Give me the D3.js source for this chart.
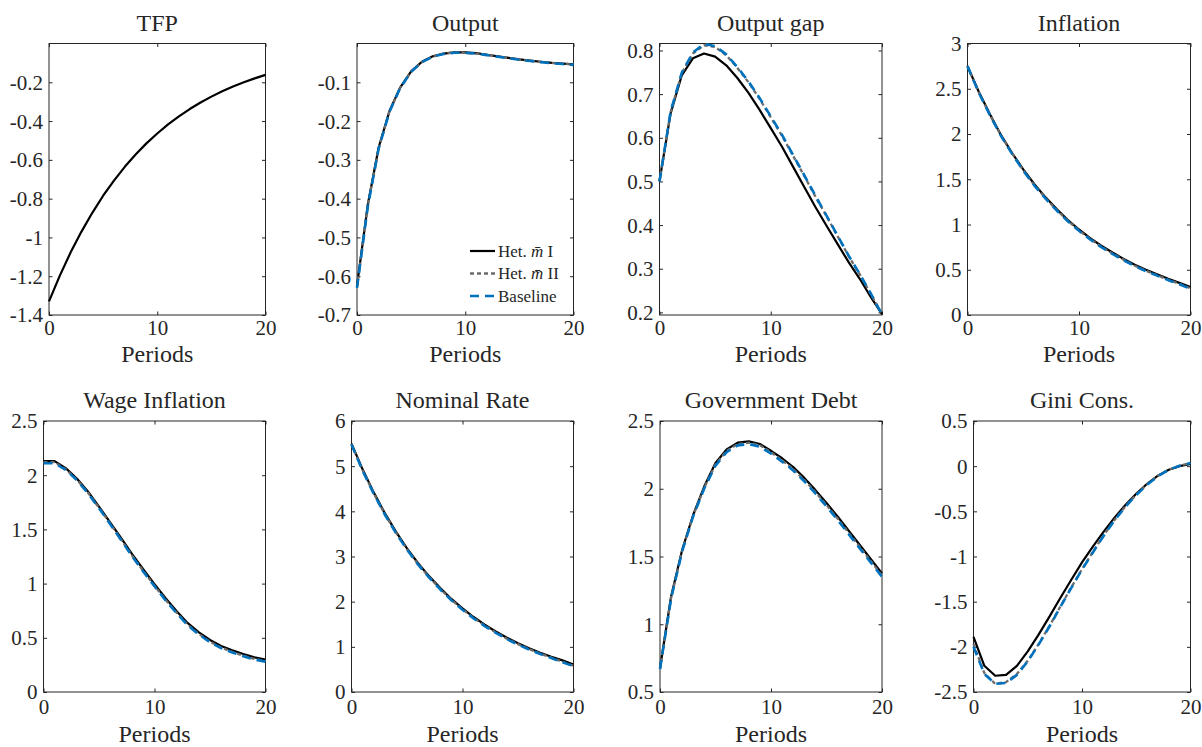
<!DOCTYPE html>
<html lang="en">
<head>
  <meta charset="UTF-8">
  <title>Impulse responses</title>
  <style>
    body { margin: 0; background: #fff; }
    #chart text { font-family: "Liberation Serif", "DejaVu Serif", serif; fill: #262626; }
  </style>
</head>
<body>
  <svg id="chart" width="1202" height="747"></svg>

  <script src="https://d3js.org/d3.v7.min.js"></script>
  <script>
    // periods on the x axis
    const periods = [0,1,2,3,4,5,6,7,8,9,10,11,12,13,14,15,16,17,18,19,20];
    const xTicks = [0, 10, 20];

    const titles = ["TFP", "Output", "Output gap", "Inflation",
                    "Wage Inflation", "Nominal Rate", "Government Debt", "Gini Cons."];
    const seriesNames = ["Het. m\u0304 I", "Het. m\u0304 II", "Baseline"];

    // y limits and tick labels for each panel
    const yLimits = [[-1.4, 0], [-0.7, 0], [0.194, 0.816], [0, 3],
                     [0, 2.5], [0, 6], [0.5, 2.5], [-2.5, 0.5]];
    const tfpTicks = [-1.4, -1.2, -1, -0.8, -0.6, -0.4, -0.2];
    const outputTicks = [-0.7, -0.6, -0.5, -0.4, -0.3, -0.2, -0.1];
    const gapTicks = [0.2, 0.3, 0.4, 0.5, 0.6, 0.7, 0.8];
    const inflTicks = [0, 0.5, 1, 1.5, 2, 2.5, 3];
    const wageTicks = [0, 0.5, 1, 1.5, 2, 2.5];
    const rateTicks = [0, 1, 2, 3, 4, 5, 6];
    const debtTicks = [0.5, 1, 1.5, 2, 2.5];
    const giniTicks = [-2.5, -2, -1.5, -1, -0.5, 0, 0.5];

    // TFP (same for all models)
    const tfp = [-1.33, -1.197, -1.077, -0.970, -0.873, -0.785, -0.707, -0.636, -0.572, -0.515, -0.464,
                 -0.417, -0.376, -0.338, -0.304, -0.274, -0.246, -0.222, -0.200, -0.180, -0.162];

    const outputI = [-0.625, -0.415, -0.268, -0.174, -0.113, -0.072, -0.047, -0.033, -0.026, -0.023, -0.023,
                     -0.025, -0.029, -0.033, -0.037, -0.041, -0.044, -0.047, -0.050, -0.052, -0.054];
    const outputII = [-0.628, -0.418, -0.270, -0.175, -0.114, -0.073, -0.048, -0.034, -0.026, -0.023, -0.024,
                      -0.026, -0.029, -0.033, -0.037, -0.041, -0.045, -0.048, -0.050, -0.052, -0.054];
    const outputBase = [-0.630, -0.420, -0.271, -0.176, -0.114, -0.073, -0.048, -0.034, -0.027, -0.024, -0.024,
                        -0.026, -0.030, -0.034, -0.038, -0.042, -0.045, -0.048, -0.051, -0.053, -0.055];

    const gapI = [0.501, 0.656, 0.743, 0.782, 0.793, 0.786, 0.766, 0.737, 0.703, 0.664, 0.622,
                  0.580, 0.534, 0.488, 0.442, 0.399, 0.357, 0.315, 0.277, 0.235, 0.196];
    const gapII = [0.500, 0.659, 0.748, 0.793, 0.812, 0.808, 0.789, 0.760, 0.727, 0.689, 0.647,
                   0.605, 0.559, 0.513, 0.466, 0.421, 0.375, 0.329, 0.287, 0.242, 0.195];
    const gapBase = [0.500, 0.660, 0.749, 0.795, 0.815, 0.810, 0.791, 0.762, 0.729, 0.691, 0.649,
                     0.607, 0.561, 0.515, 0.468, 0.422, 0.376, 0.330, 0.288, 0.243, 0.195];

    const inflI = [2.75, 2.47, 2.22, 1.99, 1.79, 1.61, 1.445, 1.30, 1.17, 1.05, 0.945,
                   0.85, 0.765, 0.69, 0.62, 0.555, 0.50, 0.45, 0.40, 0.355, 0.31];
    const inflII = [2.75, 2.465, 2.215, 1.985, 1.785, 1.60, 1.435, 1.29, 1.16, 1.04, 0.935,
                    0.84, 0.755, 0.68, 0.61, 0.545, 0.49, 0.44, 0.39, 0.345, 0.295];
    const inflBase = [2.75, 2.46, 2.21, 1.98, 1.78, 1.595, 1.43, 1.285, 1.155, 1.035, 0.93,
                      0.835, 0.75, 0.675, 0.605, 0.54, 0.485, 0.435, 0.385, 0.34, 0.29];

    const wageI = [2.13, 2.13, 2.065, 1.97, 1.85, 1.71, 1.565, 1.42, 1.27, 1.13, 0.995,
                   0.865, 0.745, 0.635, 0.55, 0.48, 0.425, 0.385, 0.35, 0.32, 0.30];
    const wageII = [2.12, 2.12, 2.055, 1.96, 1.84, 1.70, 1.555, 1.405, 1.255, 1.115, 0.98,
                    0.85, 0.73, 0.62, 0.535, 0.465, 0.41, 0.37, 0.335, 0.305, 0.285];
    const wageBase = [2.11, 2.11, 2.05, 1.955, 1.835, 1.695, 1.55, 1.40, 1.25, 1.11, 0.975,
                      0.845, 0.725, 0.615, 0.53, 0.46, 0.405, 0.365, 0.33, 0.30, 0.28];

    const rateI = [5.50, 4.93, 4.42, 3.96, 3.55, 3.18, 2.85, 2.56, 2.30, 2.06, 1.85,
                   1.66, 1.49, 1.34, 1.20, 1.08, 0.97, 0.87, 0.78, 0.70, 0.61];
    const rateII = [5.49, 4.91, 4.40, 3.94, 3.53, 3.16, 2.83, 2.54, 2.28, 2.04, 1.83,
                    1.64, 1.47, 1.32, 1.18, 1.06, 0.95, 0.85, 0.76, 0.67, 0.58];
    const rateBase = [5.48, 4.90, 4.39, 3.93, 3.52, 3.15, 2.82, 2.53, 2.27, 2.03, 1.82,
                      1.63, 1.46, 1.31, 1.17, 1.05, 0.94, 0.84, 0.75, 0.66, 0.57];

    const debtI = [0.675, 1.205, 1.55, 1.81, 2.02, 2.19, 2.29, 2.34, 2.35, 2.33, 2.28,
                   2.225, 2.16, 2.08, 1.99, 1.895, 1.795, 1.69, 1.585, 1.48, 1.375];
    const debtII = [0.67, 1.195, 1.545, 1.805, 2.01, 2.18, 2.28, 2.33, 2.34, 2.32, 2.27,
                    2.21, 2.145, 2.065, 1.975, 1.88, 1.78, 1.675, 1.57, 1.465, 1.36];
    const debtBase = [0.67, 1.19, 1.54, 1.80, 2.005, 2.17, 2.27, 2.32, 2.33, 2.31, 2.26,
                      2.20, 2.135, 2.055, 1.965, 1.87, 1.77, 1.665, 1.56, 1.455, 1.35];

    const giniI = [-1.89, -2.21, -2.32, -2.31, -2.21, -2.05, -1.865, -1.665, -1.46, -1.26, -1.065,
                   -0.89, -0.725, -0.57, -0.43, -0.305, -0.195, -0.105, -0.04, 0.0, 0.025];
    const giniII = [-1.97, -2.29, -2.41, -2.39, -2.30, -2.155, -1.97, -1.77, -1.555, -1.345, -1.14,
                    -0.95, -0.765, -0.595, -0.445, -0.315, -0.2, -0.108, -0.038, 0.005, 0.035];
    const giniBase = [-2.00, -2.30, -2.41, -2.40, -2.31, -2.16, -1.975, -1.775, -1.56, -1.35, -1.145,
                      -0.955, -0.77, -0.60, -0.45, -0.32, -0.205, -0.11, -0.04, 0.005, 0.035];

    const panelTicks = [tfpTicks, outputTicks, gapTicks, inflTicks, wageTicks, rateTicks, debtTicks, giniTicks];
    const panelSeries = [
      [tfp],
      [outputI, outputII, outputBase],
      [gapI, gapII, gapBase],
      [inflI, inflII, inflBase],
      [wageI, wageII, wageBase],
      [rateI, rateII, rateBase],
      [debtI, debtII, debtBase],
      [giniI, giniII, giniBase]
    ];

    // line styles: Het I, Het II, Baseline
    const styles = [
      { color: "#000000", width: 2.2, dash: null },
      { color: "#6b6b6b", width: 2.3, dash: "4,3" },
      { color: "#0072bd", width: 2.6, dash: "9,6" }
    ];

    const FONT = "'Liberation Serif', 'DejaVu Serif', serif";

    // axes boxes (MATLAB-like subplot layout)
    const rights = [265.5, 573.5, 882, 1190.5];
    const lefts = [[49, 357, 659.5, 967.5], [43.5, 351.5, 660, 973.5]];
    const rowTop = [43.5, 421];
    const rowBottom = [315, 692];
    const titleY = [31, 408];
    const xLabelY = [361.5, 742];

    const svg = d3.select("#chart");
    const fmt = v => String(+v.toFixed(3));

    panelSeries.forEach((series, i) => {
      const row = Math.floor(i / 4), col = i % 4;
      const x0 = lefts[row][col], x1 = rights[col];
      const y0 = rowTop[row], y1 = rowBottom[row];

      const x = d3.scaleLinear().domain([0, 20]).range([x0, x1]);
      const y = d3.scaleLinear().domain(yLimits[i]).range([y1, y0]);

      const g = svg.append("g");

      // zero line (only visible in the Output panel)
      if (i === 1) {
        g.append("line")
          .attr("x1", x0).attr("x2", x1)
          .attr("y1", y(0)).attr("y2", y(0))
          .attr("stroke", "#000").attr("stroke-width", 1)
          .attr("stroke-dasharray", "6,4");
      }

      // box
      g.append("rect")
        .attr("x", x0).attr("y", y0)
        .attr("width", x1 - x0).attr("height", y1 - y0)
        .attr("fill", "none").attr("stroke", "#262626").attr("stroke-width", 1);

      // axes with inward ticks
      const ticks = panelTicks[i];
      const tickLen = 3.5;
      const left = g.append("g").attr("transform", `translate(${x0},0)`)
        .call(d3.axisLeft(y).tickValues(ticks).tickSizeInner(-tickLen).tickSizeOuter(0)
          .tickPadding(6).tickFormat(fmt));
      const right = g.append("g").attr("transform", `translate(${x1},0)`)
        .call(d3.axisRight(y).tickValues(ticks).tickSizeInner(-tickLen).tickSizeOuter(0).tickFormat(""));
      const bottom = g.append("g").attr("transform", `translate(0,${y1})`)
        .call(d3.axisBottom(x).tickValues(xTicks).tickSizeInner(-tickLen).tickSizeOuter(0)
          .tickPadding(row === 0 ? 6 : 8).tickFormat(fmt));
      const top = g.append("g").attr("transform", `translate(0,${y0})`)
        .call(d3.axisTop(x).tickValues(xTicks).tickSizeInner(-tickLen).tickSizeOuter(0).tickFormat(""));

      [left, right, bottom, top].forEach(a => {
        a.attr("font-family", FONT);
        a.select(".domain").remove();
        a.selectAll(".tick line").attr("stroke", "#262626");
        a.selectAll("text").attr("font-size", 21).attr("font-family", FONT).attr("fill", "#262626");
      });
      left.selectAll("text").attr("dy", "0.33em");
      bottom.selectAll("text").attr("dy", "0.68em");

      // lines
      const line = d3.line().x((d, k) => x(periods[k])).y(d => y(d));
      series.forEach((s, k) => {
        const st = styles[k];
        g.append("path")
          .datum(s)
          .attr("d", line)
          .attr("fill", "none")
          .attr("stroke", st.color)
          .attr("stroke-width", st.width)
          .attr("stroke-linejoin", "round")
          .attr("stroke-dasharray", st.dash);
      });

      // title and x label
      g.append("text")
        .attr("x", (x0 + x1) / 2).attr("y", titleY[row])
        .attr("text-anchor", "middle").attr("font-size", 24).attr("font-family", FONT)
        .text(titles[i]);
      g.append("text")
        .attr("x", (x0 + x1) / 2).attr("y", xLabelY[row])
        .attr("text-anchor", "middle").attr("font-size", 24).attr("font-family", FONT)
        .text("Periods");

      // legend in the Output panel
      if (i === 1) {
        const legY = [251, 273.5, 296];
        seriesNames.forEach((name, k) => {
          const st = styles[k];
          g.append("line")
            .attr("x1", 470).attr("x2", 495)
            .attr("y1", legY[k]).attr("y2", legY[k])
            .attr("stroke", st.color).attr("stroke-width", st.width)
            .attr("stroke-dasharray", st.dash);
          const t = g.append("text")
            .attr("x", 498).attr("y", legY[k]).attr("dy", "0.35em")
            .attr("font-size", 17).attr("font-family", FONT);
          if (k < 2) {
            const parts = name.split("m\u0304");
            t.append("tspan").text(parts[0]);
            t.append("tspan").attr("font-style", "italic").text("m\u0304");
            t.append("tspan").text(parts[1]);
          } else {
            t.text(name);
          }
        });
      }
    });
  </script>
</body>
</html>
